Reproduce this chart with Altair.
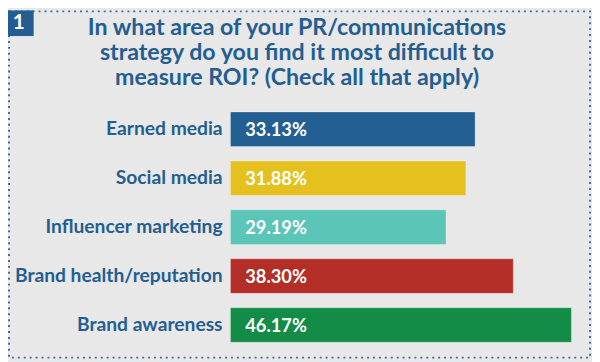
import altair as alt
import pandas as pd

categories = ["Earned media", "Social media", "Influencer marketing",
              "Brand health/reputation", "Brand awareness"]
values = [33.13, 31.88, 29.19, 38.30, 46.17]
value_labels = ["33.13%", "31.88%", "29.19%", "38.30%", "46.17%"]
bar_colors = ["#235f93", "#e5c11f", "#5bc5b8", "#b22e27", "#138c47"]
title_lines = "In what area of your PR/communications\nstrategy do you find it most difficult to\nmeasure ROI? (Check all that apply)"
badge = "1"

BLUE = "#245e91"
BG = "#e8e8e8"
FONT = "Lato"

df = pd.DataFrame({"cat": categories, "value": values, "label": value_labels, "color": bar_colors})

W, H = 592, 354

y_scale = alt.Scale(domain=categories, range=[95.7, 343.7], paddingInner=0.294, paddingOuter=0.147)
x_scale = alt.Scale(domain=[0, 46.17], range=[225.5, 571.1], nice=False, zero=True)
color_scale = alt.Scale(domain=categories, range=bar_colors)

base = alt.Chart(df)

bars = base.mark_bar(stroke="white", strokeOpacity=0.3, strokeWidth=1).encode(
    x=alt.X("value:Q", scale=x_scale, axis=None),
    y=alt.Y("cat:N", scale=y_scale, axis=None, sort=categories),
    color=alt.Color("cat:N", scale=color_scale, legend=None),
)

vals = base.mark_text(align="left", baseline="middle", font=FONT, fontWeight="bold",
                      fontSize=18.5, color="white", dx=15, dy=1).encode(
    x=alt.value(225.5),
    y=alt.Y("cat:N", scale=y_scale, axis=None, sort=categories),
    text="label:N",
)

cats = base.mark_text(align="right", baseline="middle", font=FONT, fontWeight="bold",
                      fontSize=19.5, color=BLUE, dy=0).encode(
    x=alt.value(217.5),
    y=alt.Y("cat:N", scale=y_scale, axis=None, sort=categories),
    text="cat:N",
)

frame = alt.Chart(pd.DataFrame({"k": [0]})).mark_rect(
    filled=False, stroke="#3b70a6", strokeWidth=2, strokeDash=[2, 4]
).encode(x=alt.value(1), x2=alt.value(590), y=alt.value(1), y2=alt.value(352))

badge_box = alt.Chart(pd.DataFrame({"k": [0]})).mark_rect(color=BLUE).encode(
    x=alt.value(0), x2=alt.value(26), y=alt.value(0), y2=alt.value(26))

badge_text = alt.Chart(pd.DataFrame({"t": [badge]})).mark_text(
    font=FONT, fontWeight="bold", fontSize=21, color="white", align="center", baseline="alphabetic"
).encode(x=alt.value(11), y=alt.value(18.5), text="t:N")

title = alt.Chart(pd.DataFrame({"t": [title_lines]})).mark_text(
    font=FONT, fontWeight="bold", fontSize=23.5, color=BLUE, align="center",
    baseline="alphabetic", lineBreak="\n", lineHeight=25.5
).encode(x=alt.value(293), y=alt.value(24.5), text="t:N")

chart = alt.layer(frame, badge_box, badge_text, title, bars, vals, cats).properties(
    width=W, height=H, padding=0, background=BG,
    autosize=alt.AutoSizeParams(type="none"),
).configure_view(stroke=None)

chart.save("out.html", embed_options={"renderer": "svg", "actions": False})
